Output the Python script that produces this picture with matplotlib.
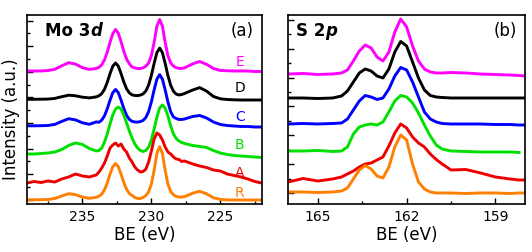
import matplotlib
matplotlib.use('Agg')
import numpy as np
import matplotlib.pyplot as plt
from matplotlib.ticker import MultipleLocator, FixedLocator, NullFormatter

# Mo 3d 영역 (BE, eV)
be_mo = [239.0, 238.5, 238.0, 237.5, 237.0, 236.5, 236.0, 235.5, 235.0, 234.5,
         234.0, 233.8, 233.6, 233.4, 233.2, 233.0, 232.8, 232.6, 232.4, 232.2,
         232.0, 231.8, 231.6, 231.4, 231.2, 231.0, 230.8, 230.6, 230.4, 230.2,
         230.0, 229.8, 229.6, 229.4, 229.2, 229.0, 228.8, 228.6, 228.4, 228.2,
         228.0, 227.8, 227.6, 227.0, 226.5, 226.0, 225.5, 225.0, 224.5, 224.0,
         223.5, 223.0, 222.5, 222.0]

mo_E = [133, 133, 133, 133.5, 134.7, 138.2, 141.3, 139.9, 136.3, 134.6,
        135.5, 136.7, 139.2, 144.1, 151.9, 161.7, 170.3, 174.5, 170.8, 162.3,
        152.7, 145, 140.3, 137, 136, 135.5, 135.5, 136.2, 137.8, 141,
        148.5, 161.7, 177.9, 184.5, 177.9, 161.5, 148.2, 141.1, 137.9, 136.3,
        135.7, 135.6, 136.1, 140.2, 142.5, 139.7, 135.5, 133.6, 133.2, 133,
        133, 133, 132.5, 132.5]
mo_D = [104.7, 104.7, 104.8, 104.9, 105.6, 107.3, 108.8, 108.2, 106.8, 106.1,
        107.1, 108.2, 110.4, 114.7, 121.7, 130.3, 137.8, 141, 137.9, 130.4,
        122, 115.2, 111.1, 109.1, 108.5, 108.4, 108.9, 110.1, 113, 119,
        128.6, 140.7, 151.4, 155.9, 151.3, 140.6, 128.4, 118.7, 112.7, 109.9,
        109, 109.5, 110.5, 114, 116.4, 112.9, 107.5, 105.2, 104.5, 104.2,
        104, 104, 104, 104]
mo_C = [78.2, 78.2, 78.3, 78.5, 79.6, 82.6, 85.3, 84.1, 81.2, 79.7,
        82.1, 81.7, 83.9, 88.2, 95.2, 103.8, 111.3, 114.5, 111.4, 103.9,
        95.5, 88.7, 84.6, 82.6, 82, 81.9, 82.4, 83.6, 86.5, 92.5,
        102.1, 114.2, 124.9, 129.4, 124.8, 114.1, 101.9, 92.2, 87, 85.5,
        84.5, 84.5, 85, 87.5, 88.5, 86, 82, 79.5, 78.5, 78,
        77.5, 77.5, 77, 77]
mo_B = [50, 50, 50.5, 51, 52, 54.5, 58.5, 61, 59.5, 55.5,
        53, 53.5, 56, 62, 70, 80, 89, 95, 97, 95,
        89, 81, 73, 66, 60, 56, 53.5, 52.5, 53.5, 57,
        64, 75, 87, 96, 99, 96, 88, 78, 70, 65.5,
        63, 61.5, 60.5, 58.5, 57.5, 56.5, 53.5, 51, 49.5, 48.5,
        48, 47.5, 47, 46.5]
mo_A = [21, 22.5, 21.5, 23, 22, 25, 27, 30, 28, 27,
        29, 32, 36, 41, 48, 56, 59, 61, 58, 60,
        55, 52, 46, 42, 37, 34, 32, 32.5, 35, 42,
        53, 65, 71, 69, 64, 57, 52, 50, 47, 45,
        44.5, 42.5, 43, 40, 38, 36.5, 34, 33, 30, 28.5,
        27, 25, 22.5, 21]
mo_R = [4.2, 4.2, 4.3, 4.5, 5.5, 8, 10.3, 9.3, 6.9, 5.7,
        6.7, 7.7, 9.9, 14.2, 21.2, 29.8, 37.3, 40.5, 37.4, 29.9,
        21.5, 14.7, 10.5, 8.5, 6.5, 5.5, 5.5, 6.5, 8.5, 12.2,
        20, 33.7, 50.6, 57.4, 50.5, 33.6, 19.8, 12.4, 9.3, 7.6,
        7, 6.9, 7.3, 10.8, 12.7, 10.2, 6.2, 4.6, 4.1, 4,
        4, 4, 4, 4]

# S 2p 영역
be_s = [166.0, 165.5, 165.0, 164.5, 164.2, 164.0, 163.8, 163.6, 163.4, 163.2,
        163.0, 162.8, 162.6, 162.4, 162.2, 162.0, 161.8, 161.6, 161.4, 161.2,
        161.0, 160.8, 160.5, 160.0, 159.5, 159.0, 158.5, 158.2, 158.0]

s_E = [130, 130.5, 129.5, 130, 131, 134, 143, 153, 159, 156,
       147, 143, 152, 172, 185, 177, 158, 143, 135, 132,
       131, 131, 131.5, 131, 130, 129.5, 129, 128.5, 128]
s_D = [106, 106, 105.5, 106, 108, 113, 122, 131, 135, 133,
       128, 126, 135, 152, 162.5, 158, 142, 126, 114, 108.5,
       107, 106.5, 106, 106, 106, 106, 106, 106, 106]
s_C = [80, 80.5, 80, 80.5, 81, 85, 94, 103, 108.5, 107,
       104.5, 106, 115, 128, 136.5, 134, 122, 107, 92, 85,
       82, 80.5, 80, 80, 80, 79.5, 79.5, 79, 79]
s_B = [53, 53, 53.5, 52.5, 53, 57, 70, 77, 79, 80,
       79, 82, 92, 103, 108.5, 107, 101, 91, 79, 68,
       59, 55, 53, 52.5, 52, 52, 52, 51.5, np.nan]
s_A = [22, 25.5, 23, 25, 27, 30, 33, 37, 40, 41,
       44, 47, 58, 71, 80, 76, 67, 61, 57, 50,
       44.5, 40, 34, 34.5, 31, 27, 25, 24, 24]
s_R = [12, 12, 11.5, 12, 13, 16, 25, 34, 38.5, 35,
       28, 26, 37, 57, 69, 64, 40, 22, 15, 12,
       11, 11, 11, 10.5, 11, 11, 10.5, 11, 11]

labels = ['E', 'D', 'C', 'B', 'A', 'R']
colors = ['#ff00ff', '#000000', '#0000ff', '#00e000', '#ee0000', '#ff8000']
mo_series = [mo_E, mo_D, mo_C, mo_B, mo_A, mo_R]
s_series = [s_E, s_D, s_C, s_B, s_A, s_R]
label_y = [0.751, 0.614, 0.46, 0.312, 0.164, 0.058]

fig = plt.figure(figsize=(5.32, 2.52), dpi=100)
ax1 = fig.add_axes([0.0513, 0.1905, 0.4406, 0.75])
ax2 = fig.add_axes([0.5419, 0.1905, 0.4449, 0.75])

for ys, c in zip(mo_series, colors):
    ax1.plot(be_mo, ys, color=c, lw=2.1, solid_joinstyle='round')
for ys, c in zip(s_series, colors):
    ax2.plot(be_s, ys, color=c, lw=2.1, solid_joinstyle='round')

ax1.set_xlim(239, 222)
ax2.set_xlim(166, 158)
ax1.xaxis.set_major_locator(MultipleLocator(5))
ax1.xaxis.set_minor_locator(MultipleLocator(2.5))
ax2.xaxis.set_major_locator(MultipleLocator(3))
ax2.xaxis.set_minor_locator(MultipleLocator(1.5))

ax1.yaxis.set_major_locator(FixedLocator([4.2 + 25.6 * k for k in range(8)]))
ax1.yaxis.set_minor_locator(FixedLocator([17.0 + 25.6 * k for k in range(7)]))
ax2.yaxis.set_major_locator(FixedLocator([10.8 + 28.9 * k for k in range(7)]))
ax2.yaxis.set_minor_locator(FixedLocator([25.25 + 28.9 * k for k in range(6)]))

for ax in (ax1, ax2):
    ax.set_ylim(0, 189)
    ax.yaxis.set_major_formatter(NullFormatter())
    ax.tick_params(which='both', direction='in', top=False, right=False, width=1)
    ax.tick_params(which='major', length=4, labelsize=10, pad=4)
    ax.tick_params(which='minor', length=2)
    for sp in ax.spines.values():
        sp.set_linewidth(1.2)
    ax.set_xlabel('BE (eV)', fontsize=12, labelpad=2)

ax1.set_ylabel('Intensity (a.u.)', fontsize=12)
ax1.yaxis.set_label_coords(-0.03, 0.45)

for lab, c, yy in zip(labels, colors, label_y):
    ax1.text(0.907, yy, lab, color=c, fontsize=10, transform=ax1.transAxes,
             ha='center', va='center')

t1 = ax1.text(0.075, 0.915, 'Mo 3', transform=ax1.transAxes, fontsize=12,
              fontweight='bold', ha='left', va='center')
ax1.annotate('d', xy=(1, 0), xycoords=t1, fontsize=12, fontweight='bold',
             fontstyle='italic', ha='left', va='bottom')
t2 = ax2.text(0.033, 0.915, 'S 2', transform=ax2.transAxes, fontsize=12,
              fontweight='bold', ha='left', va='center')
ax2.annotate('p', xy=(1, 0), xycoords=t2, fontsize=12, fontweight='bold',
             fontstyle='italic', ha='left', va='bottom')

ax1.text(0.916, 0.915, '(a)', transform=ax1.transAxes, fontsize=12,
         ha='center', va='center')
ax2.text(0.915, 0.915, '(b)', transform=ax2.transAxes, fontsize=12,
         ha='center', va='center')

fig.savefig('out.png', dpi=100)
